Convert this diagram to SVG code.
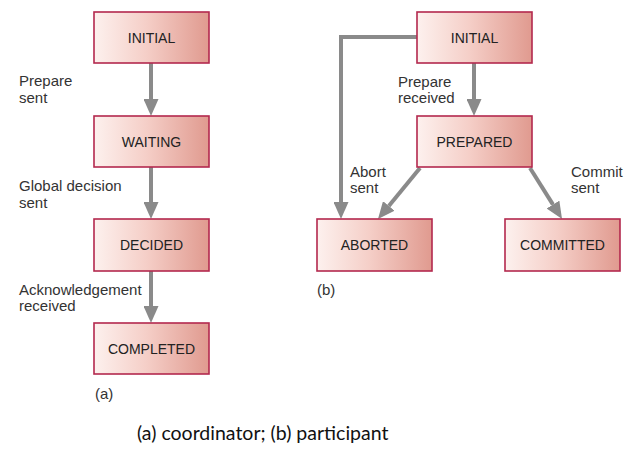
<svg xmlns="http://www.w3.org/2000/svg" width="641" height="452" viewBox="0 0 641 452">
<defs>
<linearGradient id="g" x1="0" y1="0" x2="1" y2="0">
<stop offset="0" stop-color="#fdf1ee"/>
<stop offset="0.45" stop-color="#f5cfc8"/>
<stop offset="1" stop-color="#e09a8f"/>
</linearGradient>
<marker id="ah" viewBox="0 0 17 15" refX="0" refY="7.5" markerWidth="17" markerHeight="15" markerUnits="userSpaceOnUse" orient="auto">
<path d="M0,0 L17,7.5 L0,15 z" fill="#8a8a8a"/>
</marker>
</defs>
<style>
.box{fill:url(#g);stroke:#b3294e;stroke-width:1.6}
.bt{font-family:"Liberation Sans",Arial,sans-serif;font-size:14px;fill:#222;text-anchor:middle}
.lb{font-family:"Liberation Sans",Arial,sans-serif;font-size:15px;fill:#333}
.cn{fill:none;stroke:#8a8a8a;stroke-width:4;marker-end:url(#ah)}
.cap{font-family:Lato,"Open Sans",sans-serif;font-size:19.5px;fill:#111}
</style>
<rect width="641" height="452" fill="#ffffff"/>
<g id="connectors">
<path class="cn" d="M151,63 V99"/>
<path class="cn" d="M151,167 V202"/>
<path class="cn" d="M151,271 V306"/>
<path class="cn" d="M474,63 V99"/>
<path class="cn" d="M417,37 H341 V202"/>
<path class="cn" d="M420,168 L388.8,205.9"/>
<path class="cn" d="M530,168 L553,204.6"/>
</g>
<g id="a-initial"><rect class="box" x="94" y="12" width="115" height="51"/><text class="bt" x="151.5" y="42.5">INITIAL</text></g>
<g id="a-waiting"><rect class="box" x="94" y="116" width="115" height="51"/><text class="bt" x="151.5" y="146.5">WAITING</text></g>
<g id="a-decided"><rect class="box" x="94" y="219" width="115" height="52"/><text class="bt" x="151.5" y="250">DECIDED</text></g>
<g id="a-completed"><rect class="box" x="94" y="323" width="115" height="51"/><text class="bt" x="151.5" y="353.5">COMPLETED</text></g>
<g id="b-initial"><rect class="box" x="417" y="12" width="115" height="51"/><text class="bt" x="474.5" y="42.5">INITIAL</text></g>
<g id="b-prepared"><rect class="box" x="417" y="116" width="115" height="51"/><text class="bt" x="474.5" y="146.5">PREPARED</text></g>
<g id="b-aborted"><rect class="box" x="317" y="219" width="115" height="52"/><text class="bt" x="374.5" y="250">ABORTED</text></g>
<g id="b-committed"><rect class="box" x="505" y="219" width="115" height="52"/><text class="bt" x="562.5" y="250">COMMITTED</text></g>
<g id="labels">
<text class="lb" x="19" y="86">Prepare</text>
<text class="lb" x="19" y="103">sent</text>
<text class="lb" x="19" y="191">Global decision</text>
<text class="lb" x="19" y="208">sent</text>
<text class="lb" x="19" y="295">Acknowledgement</text>
<text class="lb" x="19" y="311">received</text>
<text class="lb" x="95" y="399">(a)</text>
<text class="lb" x="398" y="87">Prepare</text>
<text class="lb" x="398" y="103">received</text>
<text class="lb" x="350" y="177">Abort</text>
<text class="lb" x="350" y="193">sent</text>
<text class="lb" x="571" y="177">Commit</text>
<text class="lb" x="571" y="193">sent</text>
<text class="lb" x="317" y="295">(b)</text>
</g>
<text class="cap" x="137" y="440">(a) coordinator; (b) participant</text>
</svg>
